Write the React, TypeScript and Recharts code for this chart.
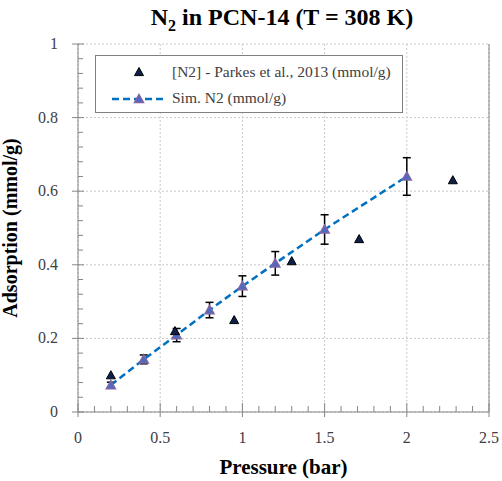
import {
  ComposedChart,
  Scatter,
  XAxis,
  YAxis,
  CartesianGrid,
  ErrorBar,
  Legend,
  ReferenceLine,
} from 'recharts'

const pressureExp = [0.2, 0.59, 0.95, 1.3, 1.71, 2.28]
const adsExp = [0.1, 0.22, 0.25, 0.41, 0.47, 0.63]

const pressureSim = [0.2, 0.4, 0.6, 0.8, 1.0, 1.2, 1.5, 2.0]
const adsSim = [0.073, 0.143, 0.209, 0.277, 0.342, 0.404, 0.496, 0.64]
const errSim = [0.008, 0.012, 0.018, 0.021, 0.028, 0.032, 0.04, 0.051]

// minor ticks every 0.1 / 0.04, labels only on the majors
const xTicks = [0, 0.1, 0.2, 0.3, 0.4, 0.5, 0.6, 0.7, 0.8, 0.9, 1, 1.1, 1.2, 1.3, 1.4, 1.5, 1.6, 1.7, 1.8, 1.9, 2, 2.1, 2.2, 2.3, 2.4, 2.5]
const xLabels = [0, 0.5, 1, 1.5, 2, 2.5]
const yTicks = [0, 0.04, 0.08, 0.12, 0.16, 0.2, 0.24, 0.28, 0.32, 0.36, 0.4, 0.44, 0.48, 0.52, 0.56, 0.6, 0.64, 0.68, 0.72, 0.76, 0.8, 0.84, 0.88, 0.92, 0.96, 1]
const yLabels = [0, 0.2, 0.4, 0.6, 0.8, 1]

const expLabel = '[N2] - Parkes et al., 2013 (mmol/g)'
const simLabel = 'Sim. N2 (mmol/g)'

const FONT = 'Liberation Serif, DejaVu Serif, serif'
const AXIS = '#868686'
const TEXT = '#404040'
const GRID = '#c8c8c8'
const SIM_LINE = '#0070c0'

const expData = pressureExp.map((p, i) => ({ p, a: adsExp[i] }))
const simData = pressureSim.map((p, i) => ({ p, a: adsSim[i], err: errSim[i] }))

const isMajor = (v: number, labels: number[]) => labels.some((l) => Math.abs(l - v) < 1e-6)

function triPoints(cx: number, cy: number, r: number) {
  return `${cx},${cy - r} ${cx + r},${cy + r * 0.8} ${cx - r},${cy + r * 0.8}`
}

const XTick = (props: any) => {
  const { x, y, payload } = props
  const major = isMajor(payload.value, xLabels)
  return (
    <g>
      <line x1={x} x2={x} y1={major ? y - 9 : y - 6} y2={major ? y + 5 : y} stroke={AXIS} />
      {major && (
        <text x={x} y={y + 31} textAnchor="middle" fill={TEXT} fontSize={16} fontFamily={FONT}>
          {payload.value}
        </text>
      )}
    </g>
  )
}

const YTick = (props: any) => {
  const { x, y, payload } = props
  const major = isMajor(payload.value, yLabels)
  return (
    <g>
      <line x1={major ? x - 6 : x} x2={major ? x + 6 : x + 5} y1={y} y2={y} stroke={AXIS} />
      {major && (
        <text x={x - 20} y={y + 5} textAnchor="end" fill={TEXT} fontSize={16} fontFamily={FONT}>
          {payload.value}
        </text>
      )}
    </g>
  )
}

const ExpMarker = (props: any) => {
  const { cx, cy } = props
  if (cx == null || cy == null) return null
  return <polygon points={triPoints(cx, cy, 4.5)} fill="#0d1f4a" stroke="#000" strokeWidth={1} />
}

const SimMarker = (props: any) => {
  const { cx, cy } = props
  if (cx == null || cy == null) return null
  return <polygon points={triPoints(cx, cy, 4.5)} fill="#4a6cc0" stroke="#8064a2" strokeWidth={1.5} />
}

const LegendBox = () => (
  <div
    style={{
      width: 308,
      height: 58,
      border: '1px solid #808080',
      background: '#fff',
      fontFamily: FONT,
      fontSize: 15.5,
      color: TEXT,
      boxSizing: 'border-box',
      whiteSpace: 'nowrap',
    }}
  >
    <div style={{ display: 'flex', alignItems: 'center', height: 28, marginTop: 2 }}>
      <svg width={76} height={20}>
        <polygon points={triPoints(43, 10, 4.5)} fill="#0d1f4a" stroke="#000" />
      </svg>
      <span>{expLabel}</span>
    </div>
    <div style={{ display: 'flex', alignItems: 'center', height: 24 }}>
      <svg width={76} height={20}>
        <line x1={16} y1={11} x2={70} y2={11} stroke={SIM_LINE} strokeWidth={2.5} strokeDasharray="7 4" />
        <polygon points={triPoints(43, 11, 4.5)} fill="#4a6cc0" stroke="#8064a2" strokeWidth={1.5} />
      </svg>
      <span>{simLabel}</span>
    </div>
  </div>
)

export default function App() {
  return (
    <div style={{ position: 'absolute', left: 0, top: 0, width: 502, height: 481, background: '#fff' }}>
      <div
        style={{
          position: 'absolute',
          left: 0,
          width: 502,
          top: 4,
          textAlign: 'center',
          paddingLeft: 62,
          boxSizing: 'border-box',
          fontFamily: FONT,
          fontWeight: 'bold',
          fontSize: 24,
          color: '#000',
        }}
      >
        N<sub style={{ fontSize: 16 }}>2</sub> in PCN-14 (T = 308 K)
      </div>
      <ComposedChart width={502} height={481} margin={{ top: 44, right: 13, left: 18, bottom: 39 }}>
        <CartesianGrid
          stroke={GRID}
          strokeDasharray="2 2"
          horizontalValues={yLabels}
          verticalValues={xLabels}
        />
        <XAxis
          dataKey="p"
          type="number"
          domain={[0, 2.5]}
          ticks={xTicks}
          interval={0}
          allowDataOverflow
          height={30}
          stroke={AXIS}
          tickLine={false}
          tickSize={0}
          tickMargin={0}
          tick={<XTick />}
          label={{
            value: 'Pressure (bar)',
            position: 'insideBottom',
            offset: -32,
            style: { fill: '#000', fontSize: 21, fontWeight: 'bold', fontFamily: FONT },
          }}
        />
        <YAxis
          type="number"
          domain={[0, 1]}
          ticks={yTicks}
          interval={0}
          allowDataOverflow
          width={60}
          stroke={AXIS}
          tickLine={false}
          tickSize={0}
          tickMargin={0}
          tick={<YTick />}
          label={{
            value: 'Adsorption (mmol/g)',
            angle: -90,
            position: 'insideLeft',
            offset: -8,
            style: { textAnchor: 'middle', fill: '#000', fontSize: 20, fontWeight: 'bold', fontFamily: FONT },
          }}
        />
        <ReferenceLine x={2.5} stroke={AXIS} strokeWidth={1} />
        <Legend
          layout="vertical"
          align="center"
          verticalAlign="middle"
          wrapperStyle={{ left: 95, top: 55, width: 308, height: 58 }}
          content={() => <LegendBox />}
        />
        <Scatter
          name={simLabel}
          data={simData}
          dataKey="a"
          line={{ stroke: SIM_LINE, strokeWidth: 2.5, strokeDasharray: '7 4' }}
          lineType="joint"
          shape={<SimMarker />}
          isAnimationActive={false}
        >
          <ErrorBar dataKey="err" direction="y" width={4} stroke="#000" strokeWidth={1.5} />
        </Scatter>
        <Scatter
          name={expLabel}
          data={expData}
          dataKey="a"
          shape={<ExpMarker />}
          isAnimationActive={false}
        />
      </ComposedChart>
    </div>
  )
}
